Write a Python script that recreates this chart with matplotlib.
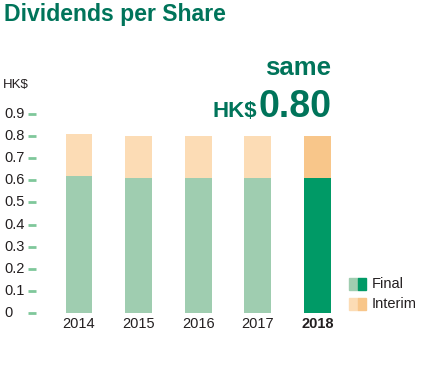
import numpy as np
import matplotlib.pyplot as plt
import matplotlib.patches as mpatches
from matplotlib.transforms import blended_transform_factory
from matplotlib import font_manager

# fonts: narrow sans if available
fams = [f.name for f in font_manager.fontManager.ttflist]
base = 'Liberation Sans Narrow' if 'Liberation Sans Narrow' in fams else 'Liberation Sans'
plt.rcParams['font.family'] = [base, 'DejaVu Sans']

### colours
teal = '#00745a'
final_light = '#9fcdb0'
final_dark = '#009a66'
interim_light = '#fcdcb5'
interim_dark = '#f8c68a'
tick_green = '#7fc79a'
txt = '#231f20'

### data
years = ['2014', '2015', '2016', '2017', '2018']
final = [0.62, 0.61, 0.61, 0.61, 0.61]
interim = [0.19, 0.19, 0.19, 0.19, 0.19]
yticks = [0, 0.1, 0.2, 0.3, 0.4, 0.5, 0.6, 0.7, 0.8, 0.9]

W, H = 432, 380
fig = plt.figure(figsize=(W / 100, H / 100), dpi=100)
# axes in pixel terms: left 36, right 345, bottom 313 (y=0), top 114 (y=0.9)
ax = fig.add_axes([36 / W, (H - 313) / H, (345 - 36) / W, (313 - 114) / H])

x = np.arange(len(years))
fc_final = [final_light] * 4 + [final_dark]
fc_int = [interim_light] * 4 + [interim_dark]
ax.bar(x, final, width=0.45, color=fc_final)
ax.bar(x, interim, width=0.45, bottom=final, color=fc_int)

ax.set_xlim((36 - 79) / 59.6, (345 - 79) / 59.6)
ax.set_ylim(0, 0.9)
for s in ax.spines.values():
    s.set_visible(False)
ax.set_yticks(yticks)
ax.set_yticklabels([])
ax.tick_params(axis='y', length=6, width=2, color=tick_green, direction='out', pad=0)
ax.set_xticks(x)
ax.set_xticklabels(years, fontsize=10.5, color=txt)
ax.tick_params(axis='x', length=0, pad=3)
ax.get_xticklabels()[-1].set_fontweight('bold')

tr = blended_transform_factory(fig.transFigure, ax.transData)
for v in yticks:
    lab = '0' if v == 0 else f'{v:.1f}'
    fig.text(4 / W, v, lab, transform=tr, ha='left', va='center', fontsize=10.5, color=txt)

fig.text(3 / W, 1 - 85 / H, 'HK$', ha='left', va='center', fontsize=9.5, color=txt)
fig.text(4 / W, 1 - 15 / H, 'Dividends per Share', ha='left', va='center',
         fontsize=16.6, fontweight='bold', color=teal)
fig.text(331 / W, 1 - 68 / H, 'same', ha='right', va='center',
         fontsize=18.5, fontweight='bold', color=teal)
fig.text(331 / W, 1 - 117 / H, '0.80', ha='right', va='baseline',
         fontsize=27, fontweight='bold', color=teal)
fig.text(257 / W, 1 - 117 / H, 'HK$', ha='right', va='baseline',
         fontsize=16, fontweight='bold', color=teal)

# legend with split swatches
for i, (lab, cl, cd) in enumerate([('Final', final_light, final_dark),
                                    ('Interim', interim_light, interim_dark)]):
    yc = 284 + i * 20
    fig.add_artist(mpatches.Rectangle((349 / W, 1 - (yc + 6) / H), 9 / W, 12 / H,
                                      transform=fig.transFigure, color=cl))
    fig.add_artist(mpatches.Rectangle((358 / W, 1 - (yc + 6) / H), 8 / W, 12 / H,
                                      transform=fig.transFigure, color=cd))
    fig.text(372 / W, 1 - yc / H, lab, ha='left', va='center', fontsize=10.5, color=txt)

fig.savefig('out.png', dpi=100)
